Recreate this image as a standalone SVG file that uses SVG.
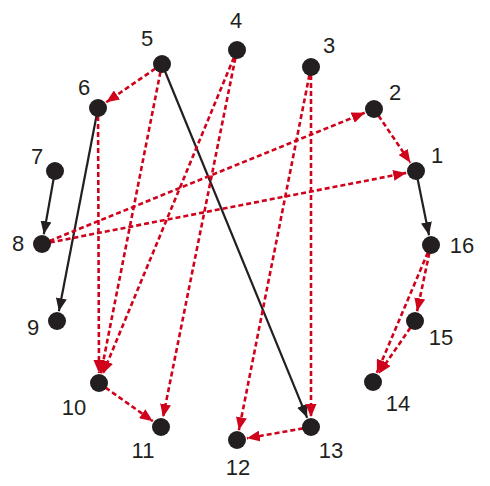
<svg xmlns="http://www.w3.org/2000/svg" width="490" height="486" viewBox="0 0 490 486">
<style>
.n{fill:#231f20}
.t{font-family:"Liberation Sans",Arial,sans-serif;font-size:22px;fill:#231f20;text-anchor:middle}
.s{stroke:#231f20;stroke-width:2.2;fill:none;marker-end:url(#ab)}
.d{stroke:#d0021b;stroke-width:2.6;fill:none;stroke-dasharray:5,3;marker-end:url(#ar)}
</style>
<defs>
<marker id="ab" markerUnits="userSpaceOnUse" markerWidth="13" markerHeight="11" refX="13" refY="5.5" orient="auto"><path d="M0,0 L13,5.5 L0,11 z" fill="#231f20"/></marker>
<marker id="ar" markerUnits="userSpaceOnUse" markerWidth="13" markerHeight="11" refX="13" refY="5.5" orient="auto"><path d="M0,0 L13,5.5 L0,11 z" fill="#d0021b"/></marker>
</defs>
<rect width="490" height="486" fill="#fff"/>
<g id="connectors">
<line class="s" x1="55" y1="171" x2="43.8" y2="234.2"/>
<line class="s" x1="98" y1="108" x2="58.9" y2="311.2"/>
<line class="s" x1="162" y1="64" x2="307.2" y2="417.8"/>
<line class="s" x1="416" y1="171" x2="429" y2="235.2"/>
<line class="d" x1="162" y1="64" x2="106.2" y2="102.3"/>
<line class="d" x1="374" y1="109" x2="410.4" y2="162.7"/>
<line class="d" x1="42" y1="244" x2="364.7" y2="112.8"/>
<line class="d" x1="42" y1="244" x2="406.2" y2="172.9"/>
<line class="d" x1="98" y1="108" x2="99" y2="373"/>
<line class="d" x1="162" y1="64" x2="100.9" y2="373.2"/>
<line class="d" x1="237" y1="50" x2="102.8" y2="373.8"/>
<line class="d" x1="237" y1="50" x2="163" y2="417.2"/>
<line class="d" x1="311" y1="67" x2="238.9" y2="430.2"/>
<line class="d" x1="311" y1="67" x2="311" y2="417"/>
<line class="d" x1="99" y1="383" x2="152.8" y2="421.2"/>
<line class="d" x1="311" y1="427" x2="246.9" y2="438.3"/>
<line class="d" x1="431" y1="245" x2="417.1" y2="311.2"/>
<line class="d" x1="431" y1="245" x2="376.9" y2="372.8"/>
<line class="d" x1="415" y1="321" x2="378.7" y2="373.8"/>
</g>
<g id="node1"><circle class="n" cx="416" cy="171" r="9"/><text class="t" x="437" y="163">1</text></g>
<g id="node2"><circle class="n" cx="374" cy="109" r="9"/><text class="t" x="395" y="100">2</text></g>
<g id="node3"><circle class="n" cx="311" cy="67" r="9"/><text class="t" x="329" y="53">3</text></g>
<g id="node4"><circle class="n" cx="237" cy="50" r="9"/><text class="t" x="236" y="28">4</text></g>
<g id="node5"><circle class="n" cx="162" cy="64" r="9"/><text class="t" x="147" y="46">5</text></g>
<g id="node6"><circle class="n" cx="98" cy="108" r="9"/><text class="t" x="84" y="95">6</text></g>
<g id="node7"><circle class="n" cx="55" cy="171" r="9"/><text class="t" x="37" y="164">7</text></g>
<g id="node8"><circle class="n" cx="42" cy="244" r="9"/><text class="t" x="18" y="251">8</text></g>
<g id="node9"><circle class="n" cx="57" cy="321" r="9"/><text class="t" x="33" y="335">9</text></g>
<g id="node10"><circle class="n" cx="99" cy="383" r="9"/><text class="t" x="74" y="415">10</text></g>
<g id="node11"><circle class="n" cx="161" cy="427" r="9"/><text class="t" x="143" y="458">11</text></g>
<g id="node12"><circle class="n" cx="237" cy="440" r="9"/><text class="t" x="238" y="475">12</text></g>
<g id="node13"><circle class="n" cx="311" cy="427" r="9"/><text class="t" x="331" y="458">13</text></g>
<g id="node14"><circle class="n" cx="373" cy="382" r="9"/><text class="t" x="398" y="411">14</text></g>
<g id="node15"><circle class="n" cx="415" cy="321" r="9"/><text class="t" x="441" y="345">15</text></g>
<g id="node16"><circle class="n" cx="431" cy="245" r="9"/><text class="t" x="462" y="253">16</text></g>
</svg>
